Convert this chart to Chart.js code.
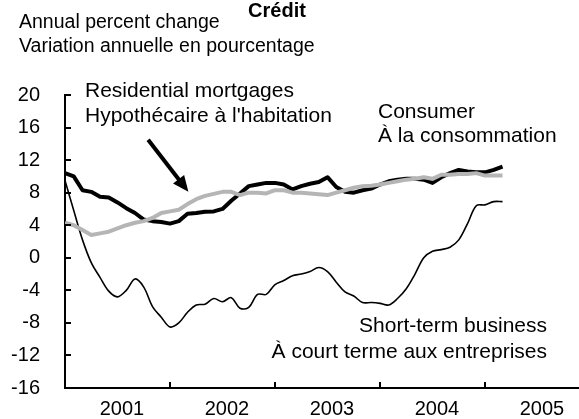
<!DOCTYPE html>
<html>
<head>
<meta charset="utf-8">
<title>Crédit</title>
<script src="https://cdn.jsdelivr.net/npm/chart.js@4.4.0/dist/chart.umd.min.js"></script>
<style>
  html, body { margin: 0; padding: 0; background: #fff; }
  #wrap { width: 579px; height: 419px; }
</style>
</head>
<body>
<div id="wrap"><canvas id="creditChart"></canvas></div>
<script>
// Credit growth, monthly, Jan 2001 - Mar 2005 (annual % change)
const years = ['2001', '2002', '2003', '2004', '2005'];

const mortgages = [10.4, 10.0, 8.3, 8.1, 7.5, 7.4, 6.8, 6.1, 5.5, 4.7,
                   4.5, 4.4, 4.2, 4.5, 5.4, 5.5, 5.65, 5.7, 6.0, 7.0,
                   7.9, 8.8, 9.0, 9.2, 9.2, 9.0, 8.4, 8.8, 9.1, 9.3,
                   9.9, 8.7, 8.1, 8.0, 8.3, 8.5, 9.0, 9.4, 9.6, 9.7,
                   9.7, 9.6, 9.2, 9.9, 10.4, 10.8, 10.6, 10.5, 10.5, 10.8,
                   11.2];

const consumer = [4.3, 4.0, 3.4, 2.8, 3.0, 3.2, 3.6, 4.0, 4.3, 4.5,
                  4.9, 5.5, 5.7, 5.9, 6.6, 7.2, 7.6, 7.85, 8.1, 8.1,
                  7.7, 8.0, 8.0, 7.9, 8.3, 8.3, 8.0, 8.0, 7.9, 7.8,
                  7.7, 8.0, 8.3, 8.6, 8.8, 8.85, 9.0, 9.2, 9.4, 9.6,
                  9.7, 9.9, 9.7, 10.2, 10.2, 10.3, 10.3, 10.4, 10.1, 10.1,
                  10.1];

const shortTerm = [9.5, 5.8, 2.2, -0.6, -2.4, -4.1, -4.8, -4.0, -2.6, -3.6,
                   -6.0, -7.3, -8.5, -8.0, -6.7, -5.8, -5.7, -5.0, -5.4, -4.9,
                   -6.2, -6.1, -4.5, -4.5, -3.3, -2.8, -2.2, -2.0, -1.7, -1.2,
                   -1.7, -3.0, -4.2, -4.7, -5.5, -5.5, -5.6, -5.8, -5.0, -3.8,
                   -2.0, 0.0, 0.8, 1.0, 1.3, 2.2, 4.2, 6.4, 6.5, 6.9,
                   6.9];

const yTickValues = [-16, -12, -8, -4, 0, 4, 8, 12, 16, 20];

// arrow pointing at the mortgage line, in chart units (month index, percent)
const arrowTail = { x: 9.5, y: 14.5 };
const arrowTip = { x: 14.1, y: 8.1 };

const FONT = '"Liberation Sans", Arial, Helvetica, sans-serif';

const toPoints = arr => arr.map((v, i) => ({ x: i, y: v }));

const decorations = {
    id: 'decorations',
    afterDraw(chart) {
        const { ctx, chartArea } = chart;
        const xs = chart.scales.x;
        const ys = chart.scales.y;
        ctx.save();

        // tick marks drawn on the inside of both axes
        ctx.strokeStyle = '#000';
        ctx.lineWidth = 2;
        ctx.beginPath();
        for (let i = 1; i < years.length; i++) {
            const px = Math.round(xs.getPixelForValue(i * 12));
            ctx.moveTo(px, chartArea.bottom);
            ctx.lineTo(px, chartArea.bottom - 6);
        }
        yTickValues.forEach(v => {
            const py = Math.round(ys.getPixelForValue(v));
            ctx.moveTo(chartArea.left, py);
            ctx.lineTo(chartArea.left + 6, py);
        });
        ctx.stroke();

        // arrow
        const x0 = xs.getPixelForValue(arrowTail.x), y0 = ys.getPixelForValue(arrowTail.y);
        const x1 = xs.getPixelForValue(arrowTip.x), y1 = ys.getPixelForValue(arrowTip.y);
        const ang = Math.atan2(y1 - y0, x1 - x0);
        const headLen = 16, headHalf = 7;
        const bx = x1 - headLen * Math.cos(ang), by = y1 - headLen * Math.sin(ang);
        ctx.lineWidth = 4;
        ctx.lineCap = 'butt';
        ctx.beginPath();
        ctx.moveTo(x0, y0);
        ctx.lineTo(bx + 2 * Math.cos(ang), by + 2 * Math.sin(ang));
        ctx.stroke();
        ctx.fillStyle = '#000';
        ctx.beginPath();
        ctx.moveTo(x1, y1);
        ctx.lineTo(bx + headHalf * Math.sin(ang), by - headHalf * Math.cos(ang));
        ctx.lineTo(bx - headHalf * Math.sin(ang), by + headHalf * Math.cos(ang));
        ctx.closePath();
        ctx.fill();

        // titles and series labels
        ctx.textBaseline = 'alphabetic';
        ctx.textAlign = 'center';
        ctx.font = 'bold 20px ' + FONT;
        ctx.fillText('Crédit', 277, 17);

        ctx.textAlign = 'left';
        ctx.font = '19.5px ' + FONT;
        ctx.fillText('Annual percent change', 19, 28);
        ctx.fillText('Variation annuelle en pourcentage', 19, 52);

        ctx.font = '21px ' + FONT;
        ctx.fillText('Residential mortgages', 85, 97);
        ctx.fillText("Hypothécaire à l'habitation", 85, 122);
        ctx.fillText('Consumer', 378, 118);
        ctx.fillText('À la consommation', 378, 142);

        ctx.textAlign = 'right';
        ctx.fillText('Short-term business', 547, 332);
        ctx.fillText('À court terme aux entreprises', 547, 358);

        ctx.restore();
    }
};

const creditChart = new Chart(document.getElementById('creditChart'), {
    type: 'line',
    data: {
        datasets: [
            {
                label: 'Consumer',
                data: toPoints(consumer),
                borderColor: '#b5b5b5',
                borderWidth: 4,
                borderJoinStyle: 'round',
                pointRadius: 0,
                tension: 0,
                order: 1
            },
            {
                label: 'Residential mortgages',
                data: toPoints(mortgages),
                borderColor: '#000',
                borderWidth: 4,
                borderJoinStyle: 'round',
                pointRadius: 0,
                tension: 0,
                order: 2
            },
            {
                label: 'Short-term business',
                data: toPoints(shortTerm),
                borderColor: '#000',
                borderWidth: 1.6,
                pointRadius: 0,
                tension: 0.35,
                order: 3
            }
        ]
    },
    options: {
        responsive: true,
        maintainAspectRatio: false,
        animation: false,
        devicePixelRatio: 1,
        layout: { padding: { top: 95, left: 0, right: 0, bottom: 0 } },
        plugins: {
            legend: { display: false },
            tooltip: { enabled: false }
        },
        scales: {
            x: {
                type: 'linear',
                min: 0,
                max: 58.74,
                grid: { display: false },
                border: { display: true, color: '#000', width: 2 },
                afterBuildTicks: scale => {
                    scale.ticks = years.map((_, i) => ({ value: i * 12 + 6.5 }));
                },
                afterFit: scale => { scale.height = 31; },
                ticks: {
                    autoSkip: false,
                    maxRotation: 0,
                    padding: 1,
                    color: '#000',
                    font: { family: FONT, size: 20 },
                    callback: (val, idx) => years[idx]
                }
            },
            y: {
                min: -16,
                max: 20,
                grid: { display: false },
                border: { display: true, color: '#000', width: 2 },
                afterFit: scale => { scale.width = 65; },
                ticks: {
                    stepSize: 4,
                    padding: 17,
                    color: '#000',
                    font: { family: FONT, size: 20 }
                }
            }
        }
    },
    plugins: [decorations]
});
</script>
</body>
</html>
